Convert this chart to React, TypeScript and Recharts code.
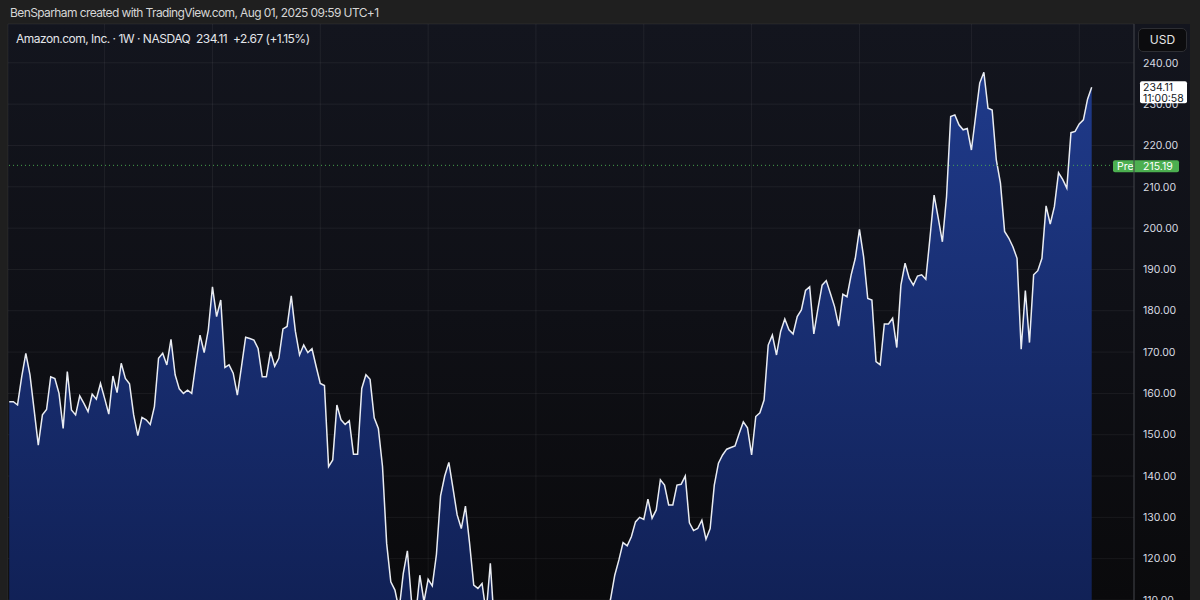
import { AreaChart, Area, XAxis, YAxis, CartesianGrid, ReferenceLine } from 'recharts'

// AMZN weekly closes (1W bars).
// Week 0 = bar of Jul 27 2020. Values under 110 fall below the visible pane.

const closes2020 = [
  158.0, 158.0, 157.2, 164.0, 169.7, 164.5, 156.0, 147.5, 154.8, 156.1, 164.0, 163.6,
  160.0, 151.5, 165.3, 156.0, 154.8, 159.4, 157.6, 155.6, 159.8, 158.6, 162.4,
]
const closes2021 = [
  158.8, 155.0, 164.2, 160.2, 167.3, 163.6, 162.3, 154.8, 149.8, 154.2, 153.6, 152.5,
  156.8, 168.5, 169.7, 166.9, 173.1, 164.5, 161.1, 160.0, 160.8, 160.0, 167.3, 174.1,
  169.9, 175.4, 185.8, 178.6, 182.6, 166.3, 166.9, 164.9, 159.6, 166.5, 173.6, 173.3,
  172.9, 170.9, 164.0, 164.0, 170.1, 166.6, 168.5, 175.6, 176.2, 183.6, 175.0, 169.3,
  171.7, 169.9, 170.8, 166.5,
]
const closes2022 = [
  162.4, 161.9, 142.3, 143.9, 157.2, 153.6, 152.5, 153.4, 145.3, 145.3, 161.2, 164.5,
  163.4, 154.1, 151.5, 142.3, 123.7, 114.4, 112.4, 107.6, 116.4, 121.9, 109.7, 106.2,
  116.0, 109.6, 115.0, 113.4, 121.0, 135.2, 140.0, 143.3, 137.0, 130.6, 127.3, 132.7,
  123.7, 113.6, 112.8, 114.0, 106.9, 118.9, 103.4, 91.0, 100.8, 94.1, 93.4, 94.1,
  90.4, 87.9, 85.3, 84.0,
]
const closes2023 = [
  86.1, 98.1, 97.3, 102.2, 103.4, 97.6, 94.4, 93.5, 94.9, 90.7, 99.0, 98.1,
  103.3, 102.1, 102.5, 107.0, 105.5, 105.7, 110.3, 116.0, 119.7, 123.9, 123.1, 125.3,
  128.9, 130.0, 129.5, 134.4, 129.8, 131.8, 139.1, 137.8, 133.0, 133.0, 137.8, 138.0,
  140.0, 128.7, 126.8, 127.3, 129.3, 124.7, 127.3, 137.8, 143.1, 145.1, 146.5, 146.9,
  147.3, 150.3, 153.1, 151.7,
]
const closes2024 = [
  145.1, 154.4, 155.3, 158.4, 171.7, 174.1, 169.3, 175.0, 178.0, 175.4, 174.4, 178.6,
  180.2, 184.9, 185.8, 174.4, 180.6, 186.2, 187.3, 184.2, 181.0, 176.3, 184.0, 183.4,
  188.7, 192.7, 199.7, 193.1, 183.0, 182.6, 167.7, 166.9, 176.8, 176.8, 178.2, 171.1,
  186.2, 191.5, 187.9, 186.2, 188.4, 188.7, 187.6, 197.6, 208.0, 202.4, 196.7, 207.6,
  227.0, 227.4, 225.0, 223.8, 224.1,
]
const closes2025 = [
  218.9, 227.0, 235.1, 237.7, 229.0, 228.6, 216.5, 210.9, 199.2, 197.6, 195.5, 192.7,
  170.7, 184.9, 172.3, 188.7, 189.7, 192.7, 205.4, 201.0, 205.2, 213.4, 211.8, 209.7,
  223.1, 223.4, 225.2, 226.2, 231.2, 234.11,
]

// first weekly bar of every January / July -> vertical grid lines
const halfYearWeeks = [23, 49, 75, 101, 127, 153, 179, 205, 232, 258]
const priceTicks = [110, 120, 130, 140, 150, 160, 170, 180, 190, 200, 210, 220, 230, 240]

const lastPrice = 234.11
const lastClock = '11:00:58'
const prePrice = 215.19

const closes = [...closes2020, ...closes2021, ...closes2022, ...closes2023, ...closes2024, ...closes2025]
const data = closes.map((close, week) => ({ week, close }))

const FONT = 'Inter, "Noto Sans", sans-serif'
const GREEN = '#4caf50'
const W = 1200
const H = 600
const MARGIN = { top: 24, right: 0, bottom: 0, left: 8 }
const WEEK_DOMAIN: [number, number] = [-0.3, 271.2]
const PRICE_DOMAIN: [number, number] = [110, 249.4]

type TagProps = { viewBox?: { x: number; y: number; width: number; height: number } }

function LastPriceTag({ viewBox }: TagProps) {
  if (!viewBox) return null
  const left = viewBox.x + viewBox.width + 6
  const y = viewBox.y
  return (
    <g>
      <rect x={left} y={y - 6} width={47} height={22} rx={2} fill="#ffffff" />
      <text x={left + 3} y={y + 3.5} fontSize={10.5} fill="#131722" fontFamily={FONT}>
        {lastPrice.toFixed(2)}
      </text>
      <text x={left + 3} y={y + 15} fontSize={10.5} fill="#131722" fontFamily={FONT}>
        {lastClock}
      </text>
    </g>
  )
}

function PreTag({ viewBox }: TagProps) {
  if (!viewBox) return null
  const right = viewBox.x + viewBox.width
  const y = viewBox.y
  return (
    <g>
      <rect x={right - 21} y={y - 5} width={66} height={12} rx={2} fill={GREEN} />
      <text x={right - 17} y={y + 4.5} fontSize={10.5} fill="#ffffff" fontFamily={FONT}>
        Pre
      </text>
      <text x={right + 9} y={y + 4.5} fontSize={10.5} fill="#ffffff" fontFamily={FONT}>
        {prePrice.toFixed(2)}
      </text>
    </g>
  )
}

export default function App() {
  return (
    <div
      style={{
        position: 'absolute',
        left: 0,
        top: 0,
        width: W,
        height: H,
        overflow: 'hidden',
        background: '#1f1f1f',
        fontFamily: FONT,
      }}
    >
      {/* snapshot header */}
      <div
        style={{
          position: 'absolute',
          left: 10,
          top: 4,
          fontSize: 12,
          letterSpacing: -0.6,
          lineHeight: '18px',
          color: '#d6d6d6',
        }}
      >
        BenSparham created with TradingView.com, Aug 01, 2025 09:59 UTC+1
      </div>

      {/* pane background */}
      <div
        style={{
          position: 'absolute',
          left: 8,
          top: 24,
          width: 1182,
          height: 576,
          background: 'linear-gradient(180deg, #13151e 0%, #0f1016 50%, #0a0a0c 100%)',
        }}
      />

      <div style={{ position: 'absolute', left: 0, top: 0 }}>
        <AreaChart width={W} height={H} data={data} margin={MARGIN}>
          <defs>
            <linearGradient id="amznFill" x1="0" y1="0" x2="0" y2="1">
              <stop offset="0%" stopColor="#1f3a8a" />
              <stop offset="100%" stopColor="#0e1c4c" />
            </linearGradient>
          </defs>
          <CartesianGrid stroke="rgba(255,255,255,0.06)" strokeWidth={1} />
          <XAxis
            dataKey="week"
            type="number"
            domain={WEEK_DOMAIN}
            ticks={halfYearWeeks}
            allowDataOverflow
            hide
          />
          <YAxis
            orientation="right"
            width={66}
            domain={PRICE_DOMAIN}
            ticks={priceTicks}
            interval={0}
            allowDataOverflow
            tickLine={false}
            tickMargin={3}
            axisLine={{ stroke: '#3e4047' }}
            tick={{ fill: '#d8dbe2', fontSize: 10.5, fontFamily: FONT }}
            tickFormatter={(v: number) => v.toFixed(2)}
          />
          <Area
            type="linear"
            dataKey="close"
            stroke="#e9ecf2"
            strokeWidth={1.5}
            fill="url(#amznFill)"
            fillOpacity={1}
            dot={false}
            activeDot={false}
            isAnimationActive={false}
          />
          <ReferenceLine
            y={prePrice}
            stroke={GREEN}
            strokeOpacity={0.9}
            strokeDasharray="1 3"
            label={<PreTag />}
          />
        </AreaChart>
      </div>

      {/* overlay on the same scales so the last-price tag sits above the axis labels */}
      <div style={{ position: 'absolute', left: 0, top: 0, pointerEvents: 'none' }}>
        <AreaChart width={W} height={H} data={data} margin={{ ...MARGIN, right: 66 }}>
          <XAxis dataKey="week" type="number" domain={WEEK_DOMAIN} allowDataOverflow hide />
          <YAxis domain={PRICE_DOMAIN} allowDataOverflow hide />
          <ReferenceLine y={lastPrice} stroke="none" label={<LastPriceTag />} />
        </AreaChart>
      </div>

      {/* legend */}
      <div
        style={{
          position: 'absolute',
          left: 16,
          top: 31,
          fontSize: 12,
          letterSpacing: -0.5,
          lineHeight: '16px',
          color: '#e3e5ea',
          whiteSpace: 'pre',
        }}
      >
        {`Amazon.com, Inc. · 1W · NASDAQ  ${lastPrice.toFixed(2)}  +2.67 (+1.15%)`}
      </div>

      {/* currency button */}
      <div
        style={{
          position: 'absolute',
          left: 1138,
          top: 28,
          width: 47,
          height: 22,
          border: '1px solid #2d2e33',
          borderRadius: 5,
          background: '#0c0c0e',
          color: '#e6e6e6',
          fontSize: 12,
          lineHeight: '22px',
          textAlign: 'center',
        }}
      >
        USD
      </div>
    </div>
  )
}
